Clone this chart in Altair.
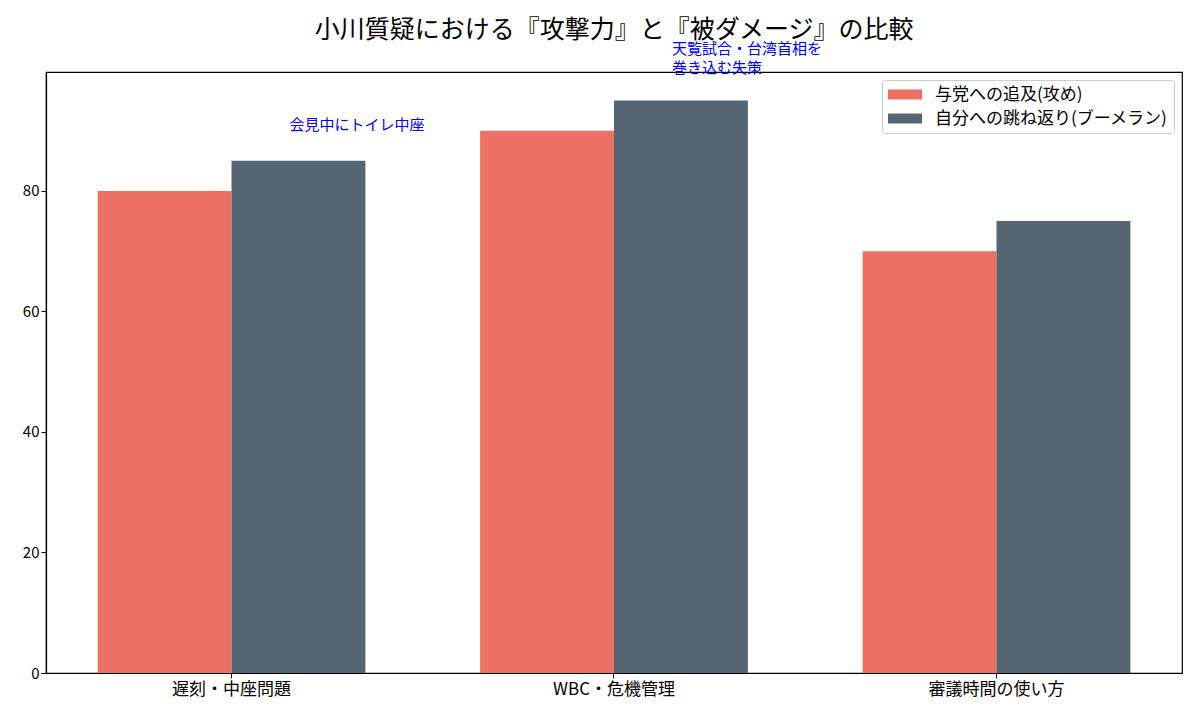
import altair as alt
import pandas as pd

categories = ["遅刻・中座問題", "WBC・危機管理", "審議時間の使い方"]
series = ["与党への追及(攻め)", "自分への跳ね返り(ブーメラン)"]
attack = [80, 90, 70]
boomerang = [85, 95, 75]
colors = ["#EC7063", "#566573"]

note_cats = ["遅刻・中座問題", "WBC・危機管理"]
note_texts = ["会見中にトイレ中座", "天覧試合・台湾首相を\n巻き込む失策"]
note_y = [90, 100]

rows = []
for i, c in enumerate(categories):
    rows.append({"cat": c, "series": series[0], "value": attack[i]})
    rows.append({"cat": c, "series": series[1], "value": boomerang[i]})
df = pd.DataFrame(rows)
notes = pd.DataFrame({"cat": note_cats, "text": note_texts, "y": note_y})
single = notes[~notes["text"].str.contains("\n")]
multi = notes[notes["text"].str.contains("\n")]

FONT = "Noto Sans CJK JP"

x_enc = alt.X("cat:N", sort=categories, title=None,
              scale=alt.Scale(paddingInner=0.3, paddingOuter=0.135),
              axis=alt.Axis(labelAngle=0, labelFontSize=17, labelColor="black",
                            tickColor="black", tickSize=5, domainColor="black",
                            labelPadding=3, labelFont=FONT))
y_scale = alt.Scale(domain=[0, 99.75], nice=False)

bars = alt.Chart(df).mark_bar().encode(
    x=x_enc,
    xOffset=alt.XOffset("series:N", sort=series, scale=alt.Scale(paddingInner=0, paddingOuter=0)),
    y=alt.Y("value:Q", scale=y_scale, title=None,
            axis=alt.Axis(values=[0, 20, 40, 60, 80], grid=False, labelFontSize=15,
                          labelColor="black", tickColor="black", tickSize=5,
                          domainColor="black", labelFont=FONT)),
    color=alt.Color("series:N", sort=series, title=None,
                    scale=alt.Scale(domain=series, range=colors),
                    legend=alt.Legend(orient="top-right", offset=8, fillColor="white",
                                      strokeColor="#cccccc", cornerRadius=3, padding=6,
                                      labelFontSize=17, labelFont=FONT, labelColor="black",
                                      labelLimit=400,
                                      symbolType="M-1,-0.6H3V0.6H-1Z", symbolSize=289,
                                      symbolStrokeWidth=0, symbolOpacity=1,
                                      rowPadding=6, labelOffset=30)),
)

text1 = alt.Chart(single).mark_text(align="left", baseline="bottom", color="blue",
                                    fontSize=15, font=FONT, dx=58, dy=2).encode(
    x=alt.X("cat:N", sort=categories),
    y=alt.Y("y:Q", scale=y_scale),
    text="text:N",
)
text2 = alt.Chart(multi).mark_text(align="left", baseline="bottom", color="blue",
                                   fontSize=15, font=FONT, dx=58, dy=-13, lineBreak="\n",
                                   lineHeight=19).encode(
    x=alt.X("cat:N", sort=categories),
    y=alt.Y("y:Q", scale=y_scale),
    text="text:N",
)

chart = alt.layer(bars, text1, text2).properties(
    width=1136, height=601,
    autosize=alt.AutoSizeParams(type="none"),
    padding={"left": 38, "top": 64, "right": 2, "bottom": 38},
    title=alt.Title("小川質疑における『攻撃力』と『被ダメージ』の比較", fontSize=25,
                    font=FONT, fontWeight="normal", color="black", offset=-1, anchor="middle"),
).configure_view(stroke="black", strokeWidth=1.2).configure_axis(domainWidth=1.2)

chart.save("out.html", embed_options={"renderer": "svg", "actions": False})
